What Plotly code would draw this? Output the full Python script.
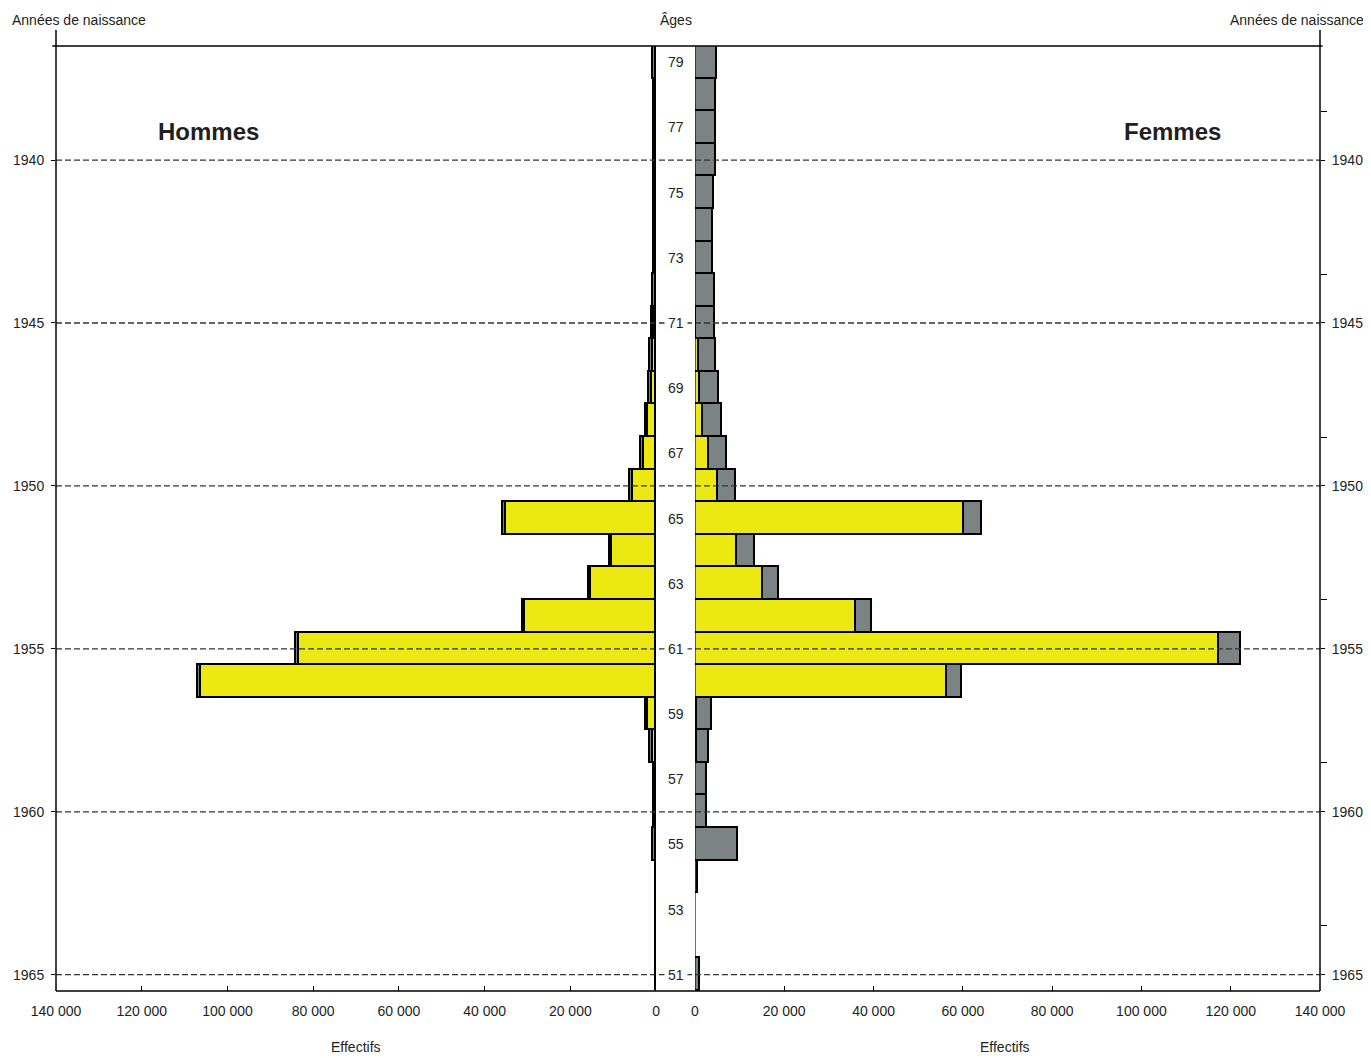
import plotly.graph_objects as go

# ---------------- data (ages 79 -> 51) ----------------
AGES = list(range(79, 50, -1))

# Hommes: yellow part and grey part (stacked outward)
H_JAUNE = [0, 0, 0, 0, 0, 0, 0, 0, 400, 700, 1000, 1800, 2800, 5370,
           35000, 10190, 15170, 30570, 83230, 106240, 1800, 770,
           0, 0, 0, 0, 0, 0, 0]
H_GRIS = [700, 500, 500, 500, 500, 500, 500, 600, 500, 630, 700, 600, 700, 630,
          700, 540, 530, 530, 770, 630, 600, 560,
          500, 400, 770, 100, 100, 100, 100]

# Femmes
F_JAUNE = [0, 0, 0, 0, 0, 0, 0, 0, 300, 900, 1100, 1700, 3100, 5200,
           60200, 9500, 15200, 36000, 117400, 56400, 500, 400,
           0, 0, 0, 0, 0, 0, 0]
F_GRIS = [4900, 4700, 4700, 4700, 4300, 4100, 4100, 4400, 4100, 3800, 4350, 4350, 4150, 4050,
          4150, 3900, 3700, 3700, 4900, 3500, 3240, 2800,
          2750, 2750, 9700, 650, 100, 100, 1200]

REF_YEAR = 2016                      # birth year = REF_YEAR - age
YEAR_TICKS = [1940, 1945, 1950, 1955, 1960, 1965]
X_TICKS = [0, 20000, 40000, 60000, 80000, 100000, 120000, 140000]
AGE_LABELS = [a for a in AGES if a % 2 == 1]

# ---------------- style ----------------
YELLOW = "#ECE811"
GREY = "#7B8385"
FONT = "Liberation Sans, Arial, sans-serif"
TXT = "#231F20"

fig = go.Figure()
line = dict(color="black", width=1.6)

fig.add_trace(go.Bar(y=AGES, x=H_JAUNE, orientation="h", marker=dict(color=YELLOW, line=line),
                     width=1, xaxis="x", yaxis="y", showlegend=False))
fig.add_trace(go.Bar(y=AGES, x=H_GRIS, orientation="h", marker=dict(color=GREY, line=line),
                     width=1, xaxis="x", yaxis="y", showlegend=False))
fig.add_trace(go.Bar(y=AGES, x=F_JAUNE, orientation="h", marker=dict(color=YELLOW, line=line),
                     width=1, xaxis="x2", yaxis="y2", showlegend=False))
fig.add_trace(go.Bar(y=AGES, x=F_GRIS, orientation="h", marker=dict(color=GREY, line=line),
                     width=1, xaxis="x2", yaxis="y2", showlegend=False))

L_DOM = [0, 0.4747]
R_DOM = [0.5055, 1]
YR = [min(AGES) - 0.5, max(AGES) + 0.5]
year_pos = [REF_YEAR - y for y in YEAR_TICKS]

xcommon = dict(tickvals=X_TICKS, tickformat=",d", ticks="inside", ticklen=5,
               tickcolor="black", tickwidth=1, showgrid=False, zeroline=False,
               showline=False, tickfont=dict(family=FONT, size=14, color=TXT),
               ticklabelstandoff=10, fixedrange=True, automargin=False)
ycommon = dict(range=YR, tickvals=year_pos, ticktext=[str(y) for y in YEAR_TICKS],
               ticks="outside", ticklen=4, tickcolor="black", showgrid=False,
               zeroline=False, showline=False, ticklabelstandoff=4,
               tickfont=dict(family=FONT, size=14, color=TXT), fixedrange=True,
               automargin=False)

# page body has an 8px margin: shift the figure accordingly
fig.update_layout(
    width=1363, height=1050,
    margin=dict(l=48, r=51, t=38, b=67),
    paper_bgcolor="white", plot_bgcolor="white",
    separators=", ",
    barmode="stack", bargap=0,
    xaxis=dict(domain=L_DOM, range=[max(X_TICKS), 0], anchor="y", **xcommon),
    xaxis2=dict(domain=R_DOM, range=[0, max(X_TICKS)], anchor="y2", **xcommon),
    yaxis=dict(anchor="x", side="left", **ycommon),
    yaxis2=dict(anchor="x2", side="right", matches="y",
                minor=dict(tick0=YR[0] + 2, dtick=5, ticks="outside", ticklen=6,
                           tickcolor="black"),
                **ycommon),
)

shapes = []
# dashed year lines across both panels
for yp in year_pos:
    shapes.append(dict(type="line", xref="paper", yref="y", x0=0, x1=1, y0=yp, y1=yp,
                       line=dict(color="#333333", width=1.3, dash="6px,3px"), layer="above"))
# frame lines
shapes.append(dict(type="line", xref="paper", yref="paper", x0=-0.003, x1=1.002, y0=1, y1=1,
                   line=dict(color="black", width=1.5), layer="above"))
shapes.append(dict(type="line", xref="paper", yref="paper", x0=0, x1=1, y0=0, y1=0,
                   line=dict(color="black", width=1.5), layer="above"))
shapes.append(dict(type="line", xref="paper", yref="paper", x0=0, x1=0, y0=0, y1=1.017,
                   line=dict(color="black", width=1.5), layer="above"))
shapes.append(dict(type="line", xref="paper", yref="paper", x0=1, x1=1, y0=0, y1=1.017,
                   line=dict(color="black", width=1.5), layer="above"))
# zero lines of each panel
shapes.append(dict(type="line", xref="x", yref="paper", x0=0, x1=0, y0=0, y1=1,
                   line=dict(color="black", width=2), layer="above"))
shapes.append(dict(type="line", xref="x2", yref="paper", x0=0, x1=0, y0=0, y1=1,
                   line=dict(color="black", width=1.2), layer="above"))
fig.update_layout(shapes=shapes)

ann = []
mid = (L_DOM[1] + R_DOM[0]) / 2 + 0.0005
for a in AGE_LABELS:
    ann.append(dict(x=mid, y=a, xref="paper", yref="y", text=str(a), showarrow=False,
                    xanchor="center", yanchor="middle",
                    font=dict(family=FONT, size=14, color=TXT), bgcolor="white", borderpad=3))

def label(x, y, text, size=14, xanchor="center"):
    return dict(x=x, y=y, xref="paper", yref="paper", text=text, showarrow=False,
                xanchor=xanchor, yanchor="middle", font=dict(family=FONT, size=size, color=TXT))

ann += [
    label(-0.0364, 1.0275, "Années de naissance", xanchor="left"),
    label(mid, 1.0275, "Âges"),
    label(1.0364, 1.0275, "Années de naissance", xanchor="right"),
    label(0.2373, -0.0593, "Effectifs"),
    label(0.7508, -0.0593, "Effectifs"),
    label(0.121, 0.910, "<b>Hommes</b>", size=24),
    label(0.883, 0.910, "<b>Femmes</b>", size=24),
]
fig.update_layout(annotations=ann)

fig.write_html("out.html")
